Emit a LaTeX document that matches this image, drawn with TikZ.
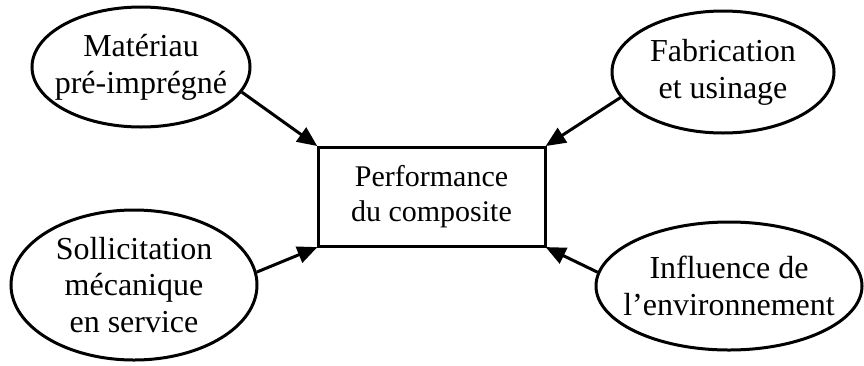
\documentclass[tikz,border=0pt]{standalone}
\usepackage{fontspec}
\setmainfont{Liberation Serif}
\usetikzlibrary{shapes.geometric,arrows.meta}
\begin{document}
\begin{tikzpicture}[x=1pt,y=-1pt,
  lw/.style={line width=3pt},
  ell/.style={ellipse,draw,lw,inner sep=0pt},
  etext/.style={inner sep=0pt,align=center,font=\fontsize{32}{36.8}\selectfont},
  box/.style={rectangle,draw,lw,inner sep=0pt,align=center,font=\fontsize{30}{34.5}\selectfont},
  arr/.style={lw,-{Triangle[length=20pt,width=17pt]},shorten >=-1pt}]
\useasboundingbox (0,0) rectangle (864,365);
\node[box,minimum width=227pt,minimum height=99pt] (r) at (431.5,196.5) {Performance\\du composite};
\node[ell,minimum width=218pt,minimum height=120pt] (tl) at (141,67) {};
\node[etext] (tlt) at (tl) {Matériau\\pré-imprégné};
\node[ell,minimum width=222pt,minimum height=122pt] (tr) at (723,72) {};
\node[etext] (trt) at (tr) {Fabrication\\et usinage};
\node[ell,minimum width=246pt,minimum height=150pt] (bl) at (134,285) {};
\node[etext] (blt) at (bl) {Sollicitation\\mécanique\\en service};
\node[ell,minimum width=266pt,minimum height=128pt] (br) at (729,286) {};
\node[etext] (brt) at (br) {Influence de\\l’environnement};
\draw[arr] (tl.-14) -- (r.north west);
\draw[arr] (tr.-166) -- (r.north east);
\draw[arr] (bl.6) -- (r.south west);
\draw[arr] (br.174) -- (r.south east);
\end{tikzpicture}
\end{document}
